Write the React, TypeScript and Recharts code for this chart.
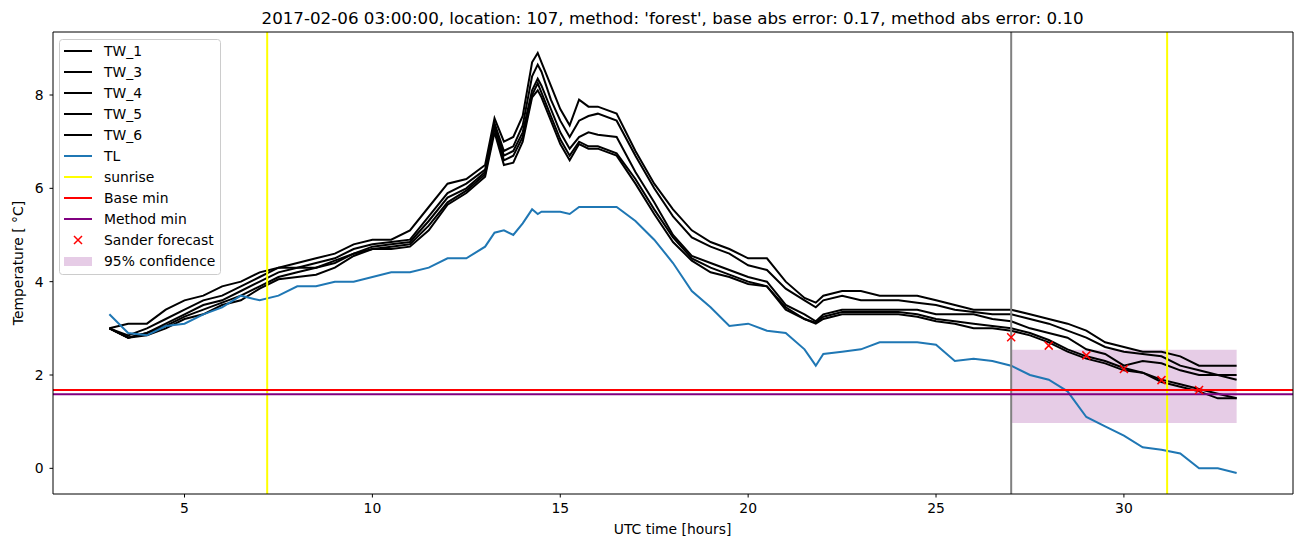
import React from 'react';
import {
  ComposedChart,
  Line,
  Scatter,
  XAxis,
  YAxis,
  ReferenceLine,
  ReferenceArea,
  Legend,
} from 'recharts';

// time axis (hours UTC), sampled where the curves change
const hours = [
  3, 3.5, 4, 4.5, 5, 5.5, 6, 6.5, 7, 7.5, 8, 8.5, 9, 9.5, 10, 10.5, 11, 11.5, 12, 12.5, 13,
  13.25, 13.5, 13.75, 14, 14.25, 14.4, 14.5, 14.75, 15, 15.25, 15.5, 15.75, 16,
  16.5, 17, 17.5, 18, 18.5, 19, 19.5, 20, 20.5, 21, 21.5, 21.8,
  22, 22.5, 23, 23.5, 24, 24.5, 25, 25.5, 26, 26.5, 27, 27.5, 28, 28.5, 29, 29.5, 30, 30.5, 31, 31.5, 32, 32.5, 33,
];

const TW_1 = [
  3.0, 3.1, 3.1, 3.4, 3.6, 3.7, 3.9, 4.0, 4.2, 4.3, 4.4, 4.5, 4.6, 4.8, 4.9, 4.9, 5.1, 5.6, 6.1, 6.2, 6.5,
  7.5, 7.0, 7.1, 7.55, 8.7, 8.9, 8.7, 8.2, 7.7, 7.35, 7.9, 7.75, 7.75,
  7.6, 6.8, 6.1, 5.55, 5.1, 4.85, 4.7, 4.5, 4.5, 4.0, 3.65, 3.55,
  3.7, 3.8, 3.8, 3.7, 3.7, 3.7, 3.6, 3.5, 3.4, 3.4, 3.4, 3.3, 3.2, 3.1, 2.95, 2.7, 2.6, 2.5, 2.5, 2.4, 2.2, 2.2, 2.2,
];
const TW_3 = [
  3.0, 2.85, 3.0, 3.2, 3.4, 3.6, 3.7, 3.9, 4.1, 4.3, 4.3, 4.4, 4.5, 4.7, 4.8, 4.85, 4.9, 5.4, 5.9, 6.1, 6.4,
  7.4, 6.8, 6.9, 7.35, 8.4, 8.65, 8.5, 7.9, 7.45, 7.1, 7.45, 7.55, 7.6,
  7.45, 6.7, 6.0, 5.4, 4.95, 4.75, 4.6, 4.35, 4.25, 3.85, 3.6, 3.45,
  3.6, 3.7, 3.6, 3.6, 3.6, 3.55, 3.5, 3.4, 3.35, 3.3, 3.3, 3.2, 3.1, 2.95, 2.8, 2.6, 2.5, 2.45, 2.4, 2.2, 2.1, 2.0, 2.0,
];
const TW_4 = [
  3.0, 2.8, 2.9, 3.1, 3.3, 3.5, 3.6, 3.8, 4.0, 4.2, 4.3, 4.3, 4.45, 4.6, 4.75, 4.8, 4.85, 5.3, 5.8, 6.0, 6.35,
  7.35, 6.7, 6.8, 7.2, 8.1, 8.35, 8.2, 7.7, 7.2, 6.85, 7.1, 7.2, 7.15,
  7.1, 6.35, 5.7, 5.0, 4.55, 4.4, 4.25, 4.1, 4.0, 3.5, 3.3, 3.15,
  3.3, 3.4, 3.4, 3.4, 3.4, 3.4, 3.3, 3.3, 3.3, 3.2, 3.15, 3.0, 2.9, 2.8, 2.55, 2.45, 2.2, 2.3, 2.25, 2.1, 2.0, 2.0, 1.9,
];
const TW_5 = [
  3.0, 2.8, 2.9, 3.05, 3.25, 3.4, 3.55, 3.7, 3.9, 4.1, 4.2, 4.3, 4.4, 4.6, 4.7, 4.75, 4.8, 5.2, 5.7, 5.95, 6.3,
  7.3, 6.6, 6.7, 7.1, 8.0, 8.25, 8.05, 7.55, 7.05, 6.7, 7.0, 6.9, 6.9,
  6.75, 6.2, 5.55, 4.95, 4.5, 4.3, 4.15, 4.0, 3.9, 3.45, 3.2, 3.12,
  3.25, 3.35, 3.35, 3.35, 3.35, 3.3, 3.2, 3.15, 3.1, 3.05, 3.0, 2.9, 2.75, 2.55, 2.4, 2.3, 2.15, 2.05, 1.9, 1.8, 1.7, 1.6, 1.5,
];
const TW_6 = [
  3.0, 2.8, 2.85, 3.0, 3.2, 3.3, 3.5, 3.6, 3.85, 4.05, 4.1, 4.15, 4.3, 4.55, 4.7, 4.7, 4.75, 5.1, 5.65, 5.9, 6.25,
  7.2, 6.5, 6.55, 7.0, 7.95, 8.1, 7.95, 7.45, 6.95, 6.6, 6.95, 6.85, 6.85,
  6.7, 6.1, 5.45, 4.85, 4.45, 4.2, 4.1, 3.95, 3.9, 3.4, 3.2, 3.1,
  3.2, 3.3, 3.3, 3.3, 3.3, 3.25, 3.15, 3.1, 3.0, 3.0, 2.95, 2.85, 2.7, 2.5, 2.35, 2.25, 2.1, 2.05, 1.85, 1.75, 1.65, 1.5, 1.5,
];
const TL = [
  3.3, 2.9, 2.85, 3.05, 3.1, 3.3, 3.45, 3.7, 3.6, 3.7, 3.9, 3.9, 4.0, 4.0, 4.1, 4.2, 4.2, 4.3, 4.5, 4.5, 4.75,
  5.05, 5.1, 5.0, 5.25, 5.55, 5.45, 5.5, 5.5, 5.5, 5.45, 5.6, 5.6, 5.6,
  5.6, 5.3, 4.9, 4.4, 3.8, 3.45, 3.05, 3.1, 2.95, 2.9, 2.55, 2.2,
  2.45, 2.5, 2.55, 2.7, 2.7, 2.7, 2.65, 2.3, 2.35, 2.3, 2.2, 2.0, 1.9, 1.65, 1.1, 0.9, 0.7, 0.45, 0.4, 0.32, 0.0, 0.0, -0.1,
];

const sanderHours = [27, 28, 29, 30, 31, 32];
const sanderValues = [2.81, 2.63, 2.42, 2.13, 1.89, 1.68];

const sunrise = [7.2, 31.15];
const forecastStart = 27;
const baseMin = 1.68;
const methodMin = 1.59;
const confidence = { x1: 27, x2: 33, low: 0.97, high: 2.54 };

const xDomain = [1.5, 34.5];
const yDomain = [-0.55, 9.35];

const twNames = ['TW_1', 'TW_3', 'TW_4', 'TW_5', 'TW_6'];
const twSeries = [TW_1, TW_3, TW_4, TW_5, TW_6];

const rows = hours.map((h, i) => {
  const row: Record<string, number> = { h, TL: TL[i] };
  twNames.forEach((n, k) => (row[n] = twSeries[k][i]));
  return row;
});
const sanderRows = sanderHours.map((h, i) => ({ h, v: sanderValues[i] }));

const FONT = 'DejaVu Sans';
const BLUE = '#1f77b4';
const PURPLE_FILL = 'rgba(128,0,128,0.2)';

const legendItems = [
  ...twNames.map((n) => ({ name: n, kind: 'line', color: '#000000' })),
  { name: 'TL', kind: 'line', color: BLUE },
  { name: 'sunrise', kind: 'line', color: '#ffff00' },
  { name: 'Base min', kind: 'line', color: '#ff0000' },
  { name: 'Method min', kind: 'line', color: '#800080' },
  { name: 'Sander forecast', kind: 'marker', color: '#ff0000' },
  { name: '95% confidence', kind: 'patch', color: PURPLE_FILL },
];

const LegendBox = () => (
  <svg width={162} height={236} style={{ display: 'block' }}>
    <rect x={0.5} y={0.5} width={161} height={235} rx={3} fill="rgba(255,255,255,0.8)" stroke="#cccccc" />
    {legendItems.map((it, i) => {
      const cy = 12 + i * 21;
      return (
        <g key={it.name}>
          {it.kind === 'line' && (
            <line x1={5} x2={33} y1={cy} y2={cy} stroke={it.color} strokeWidth={2} />
          )}
          {it.kind === 'marker' && (
            <path
              d={`M${15} ${cy - 4}L${23} ${cy + 4}M${15} ${cy + 4}L${23} ${cy - 4}`}
              stroke={it.color}
              strokeWidth={1.5}
            />
          )}
          {it.kind === 'patch' && <rect x={5} y={cy - 4} width={28} height={9} fill={it.color} />}
          <text x={45} y={cy + 5} fontSize={13.9} fontFamily={FONT} fill="#000">
            {it.name}
          </text>
        </g>
      );
    })}
  </svg>
);

const XMark = (props: any) => {
  const { cx, cy } = props;
  return (
    <path
      d={`M${cx - 4} ${cy - 4}L${cx + 4} ${cy + 4}M${cx - 4} ${cy + 4}L${cx + 4} ${cy - 4}`}
      stroke="#ff0000"
      strokeWidth={1.5}
      fill="none"
    />
  );
};

const tickStyle = { fill: '#000', fontSize: 13.9, fontFamily: FONT };

export default function App() {
  return (
    <div style={{ position: 'absolute', left: 0, top: 0, width: 1302, height: 547, background: '#fff' }}>
      <ComposedChart
        width={1302}
        height={547}
        data={rows}
        margin={{ top: 32, right: 9, bottom: 23, left: 10 }}
      >
        <XAxis
          dataKey="h"
          type="number"
          domain={xDomain}
          ticks={[5, 10, 15, 20, 25, 30]}
          allowDataOverflow
          height={30}
          tickSize={3.5}
          tickMargin={6}
          stroke="#000"
          tick={tickStyle}
        />
        <YAxis
          type="number"
          domain={yDomain}
          ticks={[0, 2, 4, 6, 8]}
          allowDataOverflow
          width={43}
          tickSize={3.5}
          tickMargin={6}
          stroke="#000"
          tick={tickStyle}
        />
        <ReferenceArea
          x1={confidence.x1}
          x2={confidence.x2}
          y1={confidence.low}
          y2={confidence.high}
          fill="#800080"
          fillOpacity={0.2}
          stroke="none"
        />
        {twNames.map((n) => (
          <Line
            key={n}
            dataKey={n}
            type="linear"
            stroke="#000"
            strokeWidth={2}
            dot={false}
            isAnimationActive={false}
          />
        ))}
        <Line dataKey="TL" type="linear" stroke={BLUE} strokeWidth={2} dot={false} isAnimationActive={false} />
        <ReferenceLine x={forecastStart} stroke="#808080" strokeWidth={2} />
        {sunrise.map((s) => (
          <ReferenceLine key={s} x={s} stroke="#ffff00" strokeWidth={2} />
        ))}
        <ReferenceLine y={baseMin} stroke="#ff0000" strokeWidth={2} />
        <ReferenceLine y={methodMin} stroke="#800080" strokeWidth={2} />
        <Scatter data={sanderRows} dataKey="v" shape={XMark} isAnimationActive={false} />
        {/* top and right spines */}
        <ReferenceLine y={yDomain[1]} stroke="#000" strokeWidth={1} ifOverflow="visible" />
        <ReferenceLine x={xDomain[1]} stroke="#000" strokeWidth={1} ifOverflow="visible" />
        <Legend
          layout="vertical"
          align="center"
          verticalAlign="middle"
          content={() => <LegendBox />}
          wrapperStyle={{ left: 59, top: 39, width: 162, height: 236 }}
        />
      </ComposedChart>
      <svg
        width={1302}
        height={547}
        style={{ position: 'absolute', left: 0, top: 0, pointerEvents: 'none' }}
      >
        <text x={672.6} y={24} textAnchor="middle" fontSize={16.7} fontFamily={FONT} fill="#000">
          2017-02-06 03:00:00, location: 107, method: 'forest', base abs error: 0.17, method abs error: 0.10
        </text>
        <text x={672.6} y={534} textAnchor="middle" fontSize={13.9} fontFamily={FONT} fill="#000">
          UTC time [hours]
        </text>
        <text
          x={23}
          y={263}
          textAnchor="middle"
          fontSize={13.9}
          fontFamily={FONT}
          fill="#000"
          transform="rotate(-90 23 263)"
        >
          Temperature [ °C]
        </text>
      </svg>
    </div>
  );
}
